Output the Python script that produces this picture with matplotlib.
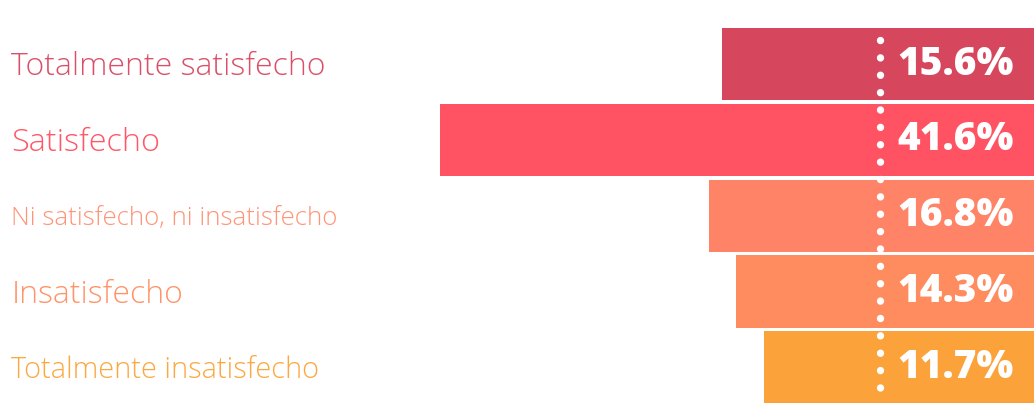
import matplotlib
matplotlib.use('Agg')
from matplotlib import pyplot as plt
import matplotlib.transforms as mtransforms

# data
categories = ['Totalmente satisfecho', 'Satisfecho', 'Ni satisfecho, ni insatisfecho',
              'Insatisfecho', 'Totalmente insatisfecho']
values = [15.6, 41.6, 16.8, 14.3, 11.7]
labels = ['15.6%', '41.6%', '16.8%', '14.3%', '11.7%']

bar_colors = ['#D6475D', '#FF5263', '#FF8467', '#FF8C5F', '#FBA33A']
text_colors = ['#DA5068', '#FF5767', '#FF9478', '#FF9468', '#FBA840']
label_sizes = [23, 23.3, 18.6, 23, 20.9]

PAD = 13.2  # bars start a bit before zero, like the original design

fig = plt.figure(figsize=(10.34, 4.03), dpi=100)
ax = fig.add_axes([0, 0, 1, 1])

ypos = list(range(len(values)))
widths = [v + PAD for v in values]
ax.barh(ypos, widths, height=0.95, color=bar_colors, left=0)

ax.set_xlim(95.4, 0)
ax.set_ylim(4.47, -0.844)
ax.axis('off')

trans = mtransforms.blended_transform_factory(ax.transAxes, ax.transData)

for i, cat in enumerate(categories):
    ax.text(0.011, ypos[i] + 0.04, cat, transform=trans, ha='left', va='center',
            fontsize=label_sizes[i], color=text_colors[i], family='Open Sans', fontweight='light')
    ax.text(0.868, ypos[i], labels[i], transform=trans, ha='left', va='center',
            fontsize=28, color='white', family='Open Sans', fontweight='heavy')

# dotted divider
ax.plot([0.851, 0.851], [0.90, -0.02], transform=ax.transAxes, color='white',
        linewidth=5.3, linestyle=(0, (0.01, 2.35)), dash_capstyle='round', clip_on=False)

fig.savefig('out.png', dpi=100)
